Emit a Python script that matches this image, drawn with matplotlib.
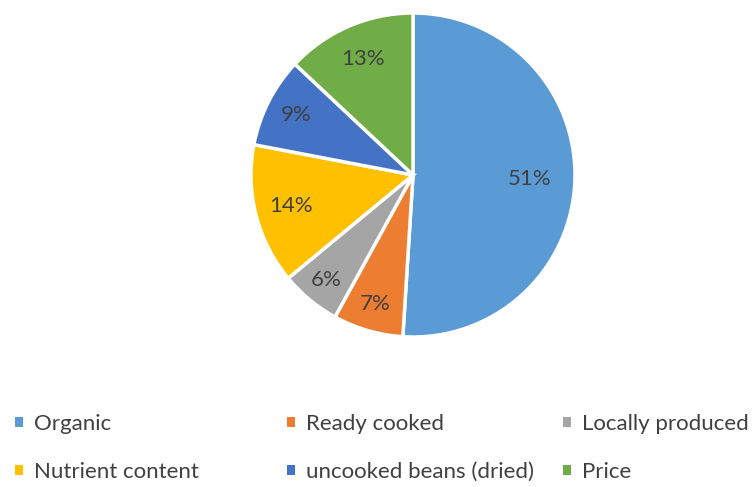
import numpy as np
import matplotlib.pyplot as plt

labels = ["Organic", "Ready cooked", "Locally produced",
          "Nutrient content", "uncooked beans (dried)", "Price"]
shares = [51, 7, 6, 14, 9, 13]
colors = ["#5B9BD5", "#ED7D31", "#A5A5A5", "#FFC000", "#4472C4", "#70AD47"]
# how far out (fraction of radius) each percentage label sits, like Excel's best fit
label_dist = [0.72, 0.83, 0.84, 0.78, 0.81, 0.78]

plt.rcParams["font.family"] = ["Lato", "DejaVu Sans"]

W, H = 756, 487
fig = plt.figure(figsize=(W / 100, H / 100), dpi=100)

# pie: centre ~(413,175) px, radius ~162 px
cx, cy, r = 413, 175, 162
ax = fig.add_axes([(cx - r) / W, (H - cy - r) / H, 2 * r / W, 2 * r / H])
wedges, texts, autotexts = ax.pie(
    shares, colors=colors, startangle=90, counterclock=False,
    autopct="%d%%", pctdistance=0.74,
    wedgeprops=dict(edgecolor="white", linewidth=2.5),
    textprops=dict(color="#404040", fontsize=16),
)
for w, t, d in zip(wedges, autotexts, label_dist):
    mid = np.deg2rad((w.theta1 + w.theta2) / 2)
    t.set_position((d * np.cos(mid), d * np.sin(mid)))
ax.set_xlim(-1, 1)
ax.set_ylim(-1, 1)
ax.set_aspect("equal")

# legend laid out like the Excel one: three columns, two rows
col_x = [-3, 269, 545]
for c in range(3):
    idx = [c, c + 3]
    leg = fig.legend(
        [wedges[i] for i in idx], [labels[i] for i in idx],
        loc="upper left", bbox_to_anchor=(col_x[c] / W, 1 - 396 / H),
        frameon=False, fontsize=16, labelcolor="#404040",
        handlelength=0.35, handleheight=0.35, handletextpad=0.5,
        labelspacing=1.27, borderpad=0.3,
    )
    for h in leg.legend_handles:
        h.set_edgecolor("none")

fig.savefig("out.png", dpi=100, facecolor="white")
